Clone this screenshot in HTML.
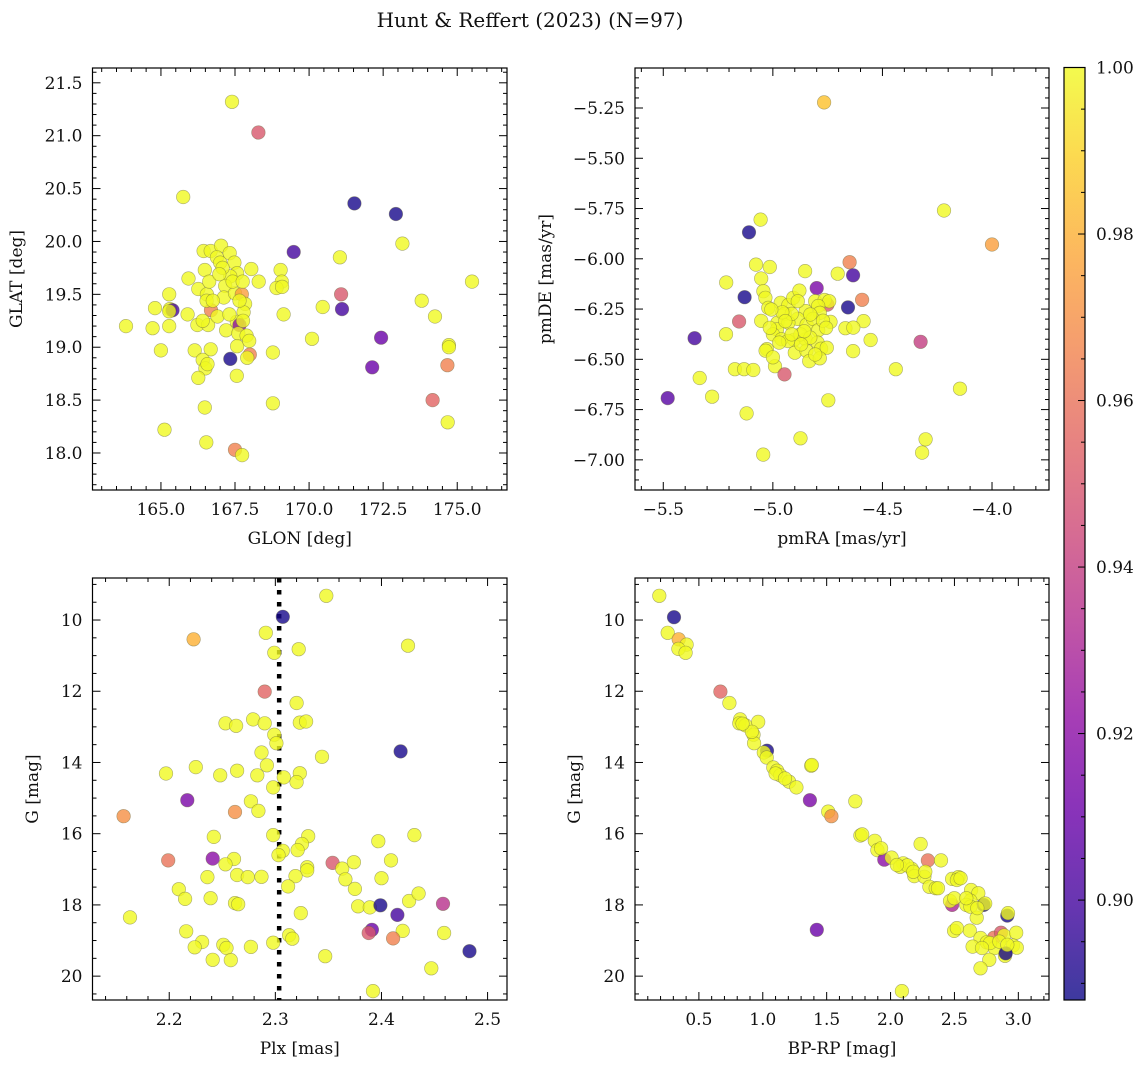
<!DOCTYPE html>
<html><head><meta charset="utf-8">
<style>
html,body{margin:0;padding:0;background:#fff;}
svg{display:block;font-family:"DejaVu Serif","Liberation Serif",serif;}
</style></head>
<body>
<svg id="fig" width="1148" height="1067" viewBox="0 0 1148 1067" xmlns="http://www.w3.org/2000/svg">
<text x="530" y="27" font-size="20" text-anchor="middle" fill="#111">Hunt &amp; Reffert (2023) (N=97)</text>
</svg>
<script>
// ---------- data ----------
const glon = [167.40,168.29,165.75,171.53,172.93,173.15,169.48,171.04,175.50,173.80,174.25,171.08,171.11,170.46,169.14,172.43,172.13,174.72,174.72,174.67,174.17,174.68,170.10,168.78,168.78,166.48,165.12,166.53,167.50,167.74,167.34,167.56,163.82,164.72,165.28,164.80,165.30,165.39,165.28,165.00,165.90,166.23,166.59,166.69,166.91,166.14,166.68,166.41,166.50,166.26,165.93,166.26,166.55,166.54,166.48,166.44,166.68,167.03,166.89,167.00,167.32,167.48,167.57,167.34,167.17,167.12,167.50,167.73,167.84,167.79,167.56,167.65,167.20,167.61,167.89,167.57,168.00,167.91,168.05,168.30,169.04,169.08,168.90,169.09,165.28,166.57,167.77,167.42,167.08,166.75,167.65,167.31,166.41,167.76,167.98,166.63,166.97];
const glat = [21.32,21.03,20.42,20.36,20.26,19.98,19.90,19.85,19.62,19.44,19.29,19.50,19.36,19.38,19.31,19.09,18.81,19.02,19.00,18.83,18.50,18.29,19.08,18.95,18.47,18.43,18.22,18.10,18.03,17.98,18.89,18.73,19.20,19.18,19.20,19.37,19.36,19.35,19.50,18.97,19.31,19.21,19.21,19.35,19.29,18.97,18.98,18.88,18.80,18.71,19.65,19.55,19.50,19.44,19.73,19.91,19.91,19.96,19.85,19.80,19.89,19.80,19.70,19.67,19.58,19.47,19.51,19.50,19.41,19.33,19.24,19.21,19.16,19.13,19.11,19.01,18.93,18.90,19.74,19.62,19.73,19.62,19.56,19.57,19.34,18.84,19.25,19.62,19.75,19.44,19.44,19.31,19.25,19.62,19.06,19.62,19.69];
const prob1 = [1,0.95,1,0.89,0.89,1,0.9,1,1,1,1,0.95,0.9,1,1,0.91,0.91,1,1,0.965,0.955,1,1,1,1,1,1,1,0.965,1,0.89,1,1,1,1,1,1,0.9,1,1,1,1,1,0.965,1,1,1,1,1,1,1,1,1,1,1,1,1,1,1,1,1,1,1,1,1,1,1,0.975,1,1,1,0.92,1,1,1,1,0.965,1,1,1,1,1,1,1,1,1,1,1,1,1,1,1,1,1,1,1,1];

const pmra = [-4.766,-4.219,-4.000,-5.056,-5.109,-5.077,-5.014,-4.853,-4.704,-4.650,-4.634,-5.213,-5.053,-5.129,-5.043,-4.800,-4.593,-4.657,-5.154,-5.357,-5.214,-5.053,-4.586,-4.737,-4.669,-4.633,-4.554,-4.634,-4.326,-4.439,-4.146,-5.334,-5.480,-5.277,-5.173,-5.131,-5.089,-4.990,-4.947,-4.747,-5.120,-4.874,-4.303,-4.319,-5.044,-4.751,-5.034,-5.021,-4.964,-4.929,-4.907,-4.879,-4.807,-4.764,-4.743,-4.793,-4.786,-4.850,-4.946,-4.886,-4.979,-4.929,-4.846,-4.817,-4.981,-5.000,-4.960,-4.903,-4.850,-4.793,-4.796,-4.780,-4.754,-5.027,-5.033,-5.000,-4.900,-4.847,-4.834,-4.786,-4.807,-4.931,-4.914,-4.957,-4.771,-5.007,-4.874,-4.971,-4.829,-4.886,-4.943,-4.857,-4.914,-5.014,-4.829,-4.871,-4.757];
const pmde = [-5.222,-5.760,-5.929,-5.805,-5.868,-6.029,-6.041,-6.061,-6.074,-6.017,-6.082,-6.118,-6.098,-6.191,-6.161,-6.146,-6.204,-6.242,-6.312,-6.395,-6.375,-6.309,-6.310,-6.314,-6.345,-6.342,-6.404,-6.459,-6.413,-6.549,-6.646,-6.593,-6.693,-6.686,-6.549,-6.549,-6.553,-6.534,-6.575,-6.704,-6.769,-6.893,-6.898,-6.964,-6.974,-6.228,-6.194,-6.244,-6.219,-6.230,-6.194,-6.158,-6.211,-6.205,-6.211,-6.235,-6.269,-6.260,-6.274,-6.299,-6.318,-6.318,-6.328,-6.299,-6.351,-6.376,-6.400,-6.403,-6.400,-6.355,-6.417,-6.447,-6.442,-6.449,-6.457,-6.490,-6.467,-6.457,-6.509,-6.495,-6.476,-6.409,-6.274,-6.266,-6.308,-6.252,-6.376,-6.417,-6.392,-6.211,-6.310,-6.360,-6.376,-6.343,-6.277,-6.426,-6.343];
const prob2 = [0.985,1,0.975,1,0.89,1,1,1,1,0.965,0.9,1,1,0.89,1,0.915,0.965,0.89,0.95,0.9,1,1,1,1,1,1,1,1,0.94,1,1,1,0.905,1,1,1,1,1,0.95,1,1,1,1,1,1,0.95,1,1,1,1,1,1,1,1,1,1,1,1,1,1,1,1,1,1,1,1,1,1,1,1,1,1,1,1,1,1,1,1,1,1,1,1,1,1,1,1,1,1,1,1,1,1,1,1,1,1,1];

const plx = [2.348,2.307,2.291,2.223,2.299,2.322,2.425,2.290,2.320,2.253,2.263,2.279,2.290,2.323,2.329,2.299,2.301,2.287,2.344,2.418,2.197,2.225,2.248,2.264,2.283,2.292,2.308,2.323,2.320,2.298,2.217,2.277,2.284,2.262,2.157,2.242,2.298,2.331,2.325,2.307,2.303,2.321,2.199,2.241,2.261,2.253,2.354,2.363,2.374,2.397,2.431,2.409,2.330,2.330,2.236,2.264,2.274,2.287,2.319,2.312,2.366,2.400,2.375,2.209,2.215,2.239,2.262,2.265,2.378,2.389,2.399,2.415,2.426,2.435,2.458,2.324,2.163,2.216,2.231,2.224,2.251,2.254,2.277,2.241,2.258,2.298,2.313,2.316,2.391,2.388,2.420,2.411,2.459,2.483,2.347,2.447,2.392];
const gmag3 = [9.32,9.91,10.36,10.54,10.92,10.82,10.72,12.01,12.33,12.90,12.97,12.79,12.90,12.88,12.85,13.22,13.46,13.72,13.84,13.69,14.31,14.13,14.36,14.23,14.36,14.08,14.42,14.30,14.55,14.70,15.06,15.09,15.36,15.39,15.51,16.09,16.04,16.07,16.29,16.48,16.60,16.46,16.75,16.70,16.71,16.86,16.82,16.98,16.80,16.21,16.04,16.75,16.94,17.03,17.22,17.16,17.22,17.21,17.19,17.48,17.28,17.25,17.55,17.56,17.83,17.81,17.95,17.98,18.04,18.07,18.01,18.28,17.89,17.68,17.97,18.23,18.35,18.74,19.04,19.19,19.12,19.21,19.18,19.54,19.55,19.06,18.85,18.95,18.70,18.79,18.73,18.94,18.79,19.30,19.44,19.78,20.42];
const prob3 = [1,0.89,1,0.98,1,1,1,0.955,1,1,1,1,1,1,1,1,1,1,1,0.89,1,1,1,1,1,1,1,1,1,1,0.915,1,1,0.97,0.97,1,1,1,1,1,1,1,0.96,0.92,1,1,0.95,1,1,1,1,1,1,1,1,1,1,1,1,1,1,1,1,1,1,1,1,1,1,1,0.89,0.9,1,1,0.935,1,1,1,1,1,1,1,1,1,1,1,1,1,0.91,0.95,1,0.965,1,0.89,1,1,1];
const plxRef = 2.3036;

const bprp = [0.19,0.305,0.256,0.342,0.404,0.340,0.396,0.668,0.739,0.823,0.816,0.865,0.964,0.927,0.932,1.033,1.008,1.031,1.379,1.082,1.112,1.137,1.206,1.263,1.369,1.512,1.537,1.724,1.764,1.778,1.877,1.897,1.951,2.008,2.099,2.075,2.166,2.131,2.235,2.292,2.395,2.186,2.265,2.304,2.353,2.482,2.531,2.519,2.482,2.465,2.499,2.630,2.687,2.729,2.741,2.625,2.593,2.625,2.674,2.914,2.919,2.497,2.620,2.704,2.810,2.864,2.889,2.983,2.642,2.753,2.815,2.958,2.988,2.896,2.773,2.704,1.423,2.089,2.901,2.050,0.915,0.841,1.100,1.174,1.384,2.178,2.371,2.548,2.593,2.679,2.778,2.852,2.914,2.716,2.519,1.926,2.272];
const gmag4 = [9.32,9.92,10.36,10.54,10.69,10.81,10.92,12.01,12.33,12.79,12.90,12.96,12.86,13.22,13.46,13.67,13.72,13.86,14.09,14.14,14.23,14.36,14.54,14.70,15.06,15.38,15.51,15.09,16.05,16.02,16.20,16.46,16.73,16.67,16.83,16.93,16.99,16.89,16.29,16.75,16.75,17.19,17.21,17.49,17.53,17.27,17.22,17.30,18.00,17.89,17.81,17.58,17.67,18.00,17.96,17.88,18.00,18.05,18.36,18.30,18.23,18.73,18.72,18.93,18.92,18.78,18.86,18.78,19.17,19.05,19.21,19.14,19.20,19.43,19.54,19.78,18.70,20.42,19.36,16.88,13.14,12.91,14.31,14.45,14.07,17.07,17.53,17.25,17.81,18.09,19.07,19.03,19.12,19.21,18.65,16.41,17.07];
const prob4 = [1,0.89,1,0.98,1,1,1,0.955,1,1,1,1,1,1,1,0.89,1,1,1,1,1,1,1,1,0.915,1,0.97,1,1,1,1,1,0.92,1,1,1,1,1,1,0.96,1,1,1,1,1,1,1,1,0.93,1,1,1,1,0.89,1,1,1,1,1,0.89,1,1,1,1,0.96,0.95,1,1,1,1,1,1,1,1,1,1,0.91,1,0.89,1,1,1,1,1,1,1,1,1,1,1,1,1,1,1,1,1,1];

const cbTicks = [0.90,0.92,0.94,0.96,0.98,1.00];
const vmin = 0.888, vmax = 1.0;

// ---------- helpers ----------
const NS = "http://www.w3.org/2000/svg";
const svg = document.getElementById('fig');
function el(tag, attrs, parent){ const e=document.createElementNS(NS,tag); for(const k in attrs) e.setAttribute(k,attrs[k]); (parent||svg).appendChild(e); return e; }
const plasma = [[13,8,135],[65,4,157],[106,0,168],[143,13,164],[177,42,144],[204,71,120],[225,100,98],[242,132,75],[252,166,54],[252,206,37],[240,249,33]];
function cmap(v){
  let t=(v-vmin)/(vmax-vmin); t=Math.max(0,Math.min(1,t)); const f=t*10, i=Math.min(9,Math.floor(f)), r=f-i;
  const a=plasma[i], b=plasma[i+1];
  return 'rgb('+[0,1,2].map(k=>Math.round(a[k]+(b[k]-a[k])*r)).join(',')+')';
}
function decimals(step){ const s=String(step); return s.includes('.')? s.split('.')[1].length : 0; }
function fmt(v,d){ return v.toFixed(d).replace('-', '\u2212'); }

function panel(cfg){
  const g = el('g',{}); 
  
  
  const {L,T,W,H,xmin,xmax,ymin,ymax,invertY} = cfg;
  const sx = v => L + (v-xmin)/(xmax-xmin)*W;
  const sy = v => invertY ? T + (v-ymin)/(ymax-ymin)*H : T + H - (v-ymin)/(ymax-ymin)*H;
  const clip = el('clipPath',{id:'clip-'+cfg.name}, g);
  el('rect',{x:L,y:T,width:W,height:H},clip);
  const pts = el('g',{'clip-path':'url(#clip-'+cfg.name+')'}, g);
  if(cfg.vline!==undefined){
    const vl = el('line',{x1:sx(cfg.vline),x2:sx(cfg.vline),y1:T,y2:T+H,stroke:'#000','stroke-width':4.5,'stroke-dasharray':'4.5,7.5'}, pts);
    
    
  }
  for(let i=0;i<cfg.xs.length;i++){
    const c = el('circle',{cx:sx(cfg.xs[i]).toFixed(1),cy:sy(cfg.ys[i]).toFixed(1),r:6.8,fill:cmap(cfg.cs[i]),'fill-opacity':0.8,stroke:'#6a6a40','stroke-opacity':0.55,'stroke-width':0.6}, pts);
    
    
  }
  // frame
  el('rect',{x:L,y:T,width:W,height:H,fill:'none',stroke:'#000','stroke-width':1.2}, g);
  // x ticks
  const xd = decimals(cfg.xmaj);
  for(let k=Math.ceil(xmin/cfg.xmin_step-1e-6); k*cfg.xmin_step<=xmax+1e-9; k++){
    const v=k*cfg.xmin_step, x=sx(v);
    const isMaj = Math.abs(v/cfg.xmaj - Math.round(v/cfg.xmaj))<1e-6;
    const len = isMaj?8:4;
    el('line',{x1:x,x2:x,y1:T+H,y2:T+H-len,stroke:'#000','stroke-width':1}, g);
    el('line',{x1:x,x2:x,y1:T,y2:T+len,stroke:'#000','stroke-width':1}, g);
    if(isMaj && v>=cfg.xlabMin-1e-9 && v<=cfg.xlabMax+1e-9){
      const t=el('text',{x:x,y:T+H+25,'font-size':17,'text-anchor':'middle',fill:'#111'}, g);
      t.textContent=fmt(v,xd);
      
      
    }
  }
  const yd = decimals(cfg.ymaj);
  for(let k=Math.ceil(ymin/cfg.ymin_step-1e-6); k*cfg.ymin_step<=ymax+1e-9; k++){
    const v=k*cfg.ymin_step, y=sy(v);
    const isMaj = Math.abs(v/cfg.ymaj - Math.round(v/cfg.ymaj))<1e-6;
    const len = isMaj?8:4;
    el('line',{x1:L,x2:L+len,y1:y,y2:y,stroke:'#000','stroke-width':1}, g);
    el('line',{x1:L+W,x2:L+W-len,y1:y,y2:y,stroke:'#000','stroke-width':1}, g);
    if(isMaj){
      const t=el('text',{x:L-10,y:y+6,'font-size':17,'text-anchor':'end',fill:'#111'}, g);
      t.textContent=fmt(v,yd);
      
      
    }
  }
  const xl=el('text',{x:L+W/2,y:T+H+54,'font-size':17,'text-anchor':'middle',fill:'#111'}, g);
  xl.textContent=cfg.xlabel;
  
  
  const yx=cfg.ylabX, yy=T+H/2;
  const yl=el('text',{x:yx,y:yy,'font-size':17,'text-anchor':'middle',fill:'#111',transform:'rotate(-90 '+yx+' '+yy+')'}, g);
  yl.textContent=cfg.ylabel;
  
  
}

panel({name:'glon-glat-panel',L:92.5,T:68,W:414.5,H:422,xmin:162.69,xmax:176.68,ymin:17.65,ymax:21.64,invertY:false,
  xmaj:2.5,xmin_step:0.5,ymaj:0.5,ymin_step:0.1,xlabMin:165,xlabMax:175,xs:glon,ys:glat,cs:prob1,xlabel:'GLON [deg]',ylabel:'GLAT [deg]',ylabX:22});
panel({name:'proper-motion-panel',L:635,T:68,W:414,H:422,xmin:-5.629,xmax:-3.74,ymin:-7.15,ymax:-5.051,invertY:false,
  xmaj:0.5,xmin_step:0.1,ymaj:0.25,ymin_step:0.05,xlabMin:-5.5,xlabMax:-4.0,xs:pmra,ys:pmde,cs:prob2,xlabel:'pmRA [mas/yr]',ylabel:'pmDE [mas/yr]',ylabX:551});
panel({name:'parallax-magnitude-panel',L:92.5,T:578,W:414.5,H:422,xmin:2.1277,xmax:2.5183,ymin:8.82,ymax:20.67,invertY:true,
  xmaj:0.1,xmin_step:0.02,ymaj:2,ymin_step:0.5,xlabMin:2.2,xlabMax:2.5,xs:plx,ys:gmag3,cs:prob3,vline:plxRef,xlabel:'Plx [mas]',ylabel:'G [mag]',ylabX:38});
panel({name:'color-magnitude-panel',L:635,T:578,W:414,H:422,xmin:0.0,xmax:3.24,ymin:8.82,ymax:20.67,invertY:true,
  xmaj:0.5,xmin_step:0.1,ymaj:2,ymin_step:0.5,xlabMin:0.5,xlabMax:3.0,xs:bprp,ys:gmag4,cs:prob4,xlabel:'BP-RP [mag]',ylabel:'G [mag]',ylabX:580});

// colorbar
(function(){
  const L=1064,T=67.5,W=21,H=932.5;
  const cb = el('g',{});
  
  
  const defs = el('defs',{},cb);
  const lg = el('linearGradient',{id:'cbgrad',x1:0,y1:1,x2:0,y2:0},defs);
  for(let i=0;i<=10;i++){ const c=plasma[i]; el('stop',{offset:i/10,'stop-color':'rgb('+c.join(',')+')'},lg); }
  el('rect',{x:L,y:T,width:W,height:H,fill:'url(#cbgrad)','fill-opacity':0.8},cb);
  el('rect',{x:L,y:T,width:W,height:H,fill:'none',stroke:'#000','stroke-width':1.2},cb);
  const sy=v=>T+H-(v-vmin)/(vmax-vmin)*H;
  for(let k=Math.ceil(vmin/0.005-1e-6);k*0.005<=vmax+1e-9;k++){
    const v=k*0.005, y=sy(v); const maj=Math.abs(v/0.02-Math.round(v/0.02))<1e-6;
    el('line',{x1:L+W,x2:L+W-(maj?7:4),y1:y,y2:y,stroke:'#000','stroke-width':1},cb);
  }
  for(const v of cbTicks){
    const t=el('text',{x:L+W+11,y:sy(v)+6,'font-size':17,fill:'#111'},cb);
    t.textContent=v.toFixed(2);
    
    
  }
})();
</script>
</body></html>
